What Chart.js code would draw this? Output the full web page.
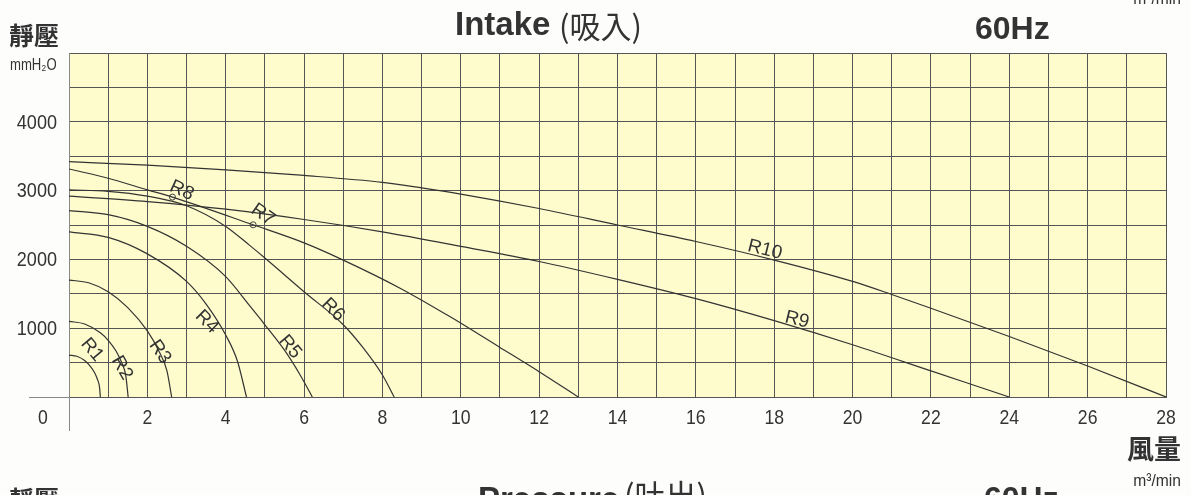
<!DOCTYPE html>
<html>
<head>
<meta charset="utf-8">
<script src="https://cdn.jsdelivr.net/npm/chart.js@4.4.1/dist/chart.umd.min.js"></script>
<style>
  html, body { margin: 0; padding: 0; background: #fdfdfc; }
  canvas { display: block; }
</style>
</head>
<body>
<canvas id="chart" width="1191" height="495"></canvas>
<script>
// 風量 (m3/min) -> 靜壓 (mmH2O)
const curveR1 = [[0, 610], [0.2, 592], [0.4, 530], [0.55, 440], [0.65, 355], [0.73, 250], [0.78, 140], [0.8, 0]];
const curveR2 = [[0, 1100], [0.4, 1061], [0.8, 933], [1.0, 824], [1.2, 668], [1.35, 493], [1.45, 307], [1.51, 0]];
const curveR3 = [[0, 1700], [0.5, 1660], [1, 1530], [1.5, 1300], [2, 960], [2.3, 660], [2.5, 380], [2.62, 0]];
const curveR4 = [[0, 2400], [1, 2320], [2, 2080], [3, 1680], [3.5, 1350], [4, 900], [4.3, 520], [4.53, 0]];
const curveR5 = [[0, 2710], [1, 2650], [2, 2480], [3, 2190], [4, 1750], [4.62, 1320], [5, 1050], [5.5, 680], [5.9, 320], [6.21, 0]];
const curveR6 = [[0, 3010], [1, 2990], [2, 2920], [3, 2780], [4, 2480], [4.62, 2200], [5, 2020], [6, 1530], [7, 1050], [7.5, 720], [8, 320], [8.3, 0]];
const curveR7 = [[0, 3314], [1, 3180], [2, 3010], [2.64, 2906], [4.7, 2503], [6, 2240], [7, 1990], [8.45, 1582], [9.72, 1169], [11, 720], [12, 368], [13, 0]];
const curveR9 = [[0, 2920], [2, 2840], [4, 2730], [6, 2580], [8, 2400], [10, 2190], [12, 1970], [14, 1710], [16, 1430], [18, 1110], [20, 760], [22, 380], [24, 0]];
const curveR10 = [[0, 3420], [2, 3370], [4, 3300], [6, 3220], [8, 3120], [9, 3040], [10, 2950], [12, 2740], [14, 2500], [16, 2260], [18, 1990], [20, 1680], [21, 1490], [22, 1290], [24, 880], [26, 450], [28, 0]];

const curveNames = ['R1', 'R2', 'R3', 'R4', 'R5', 'R6', 'R7', 'R9', 'R10'];
const curves = [curveR1, curveR2, curveR3, curveR4, curveR5, curveR6, curveR7, curveR9, curveR10];

// small circles that point a tag at its curve
const markerFlow = [2.64, 4.7];
const markerPress = [2906, 2503];

const xTicks = [2, 4, 6, 8, 10, 12, 14, 16, 18, 20, 22, 24, 26, 28];
const yTicks = [1000, 2000, 3000, 4000];

// tag text, anchor (flow, pressure) and tilt in degrees
const tags = [
    ['R1', 0.59, 684, 50],
    ['R2', 1.35, 422, 60],
    ['R3', 2.32, 655, 55],
    ['R4', 3.52, 1092, 45],
    ['R5', 5.64, 728, 50],
    ['R6', 6.74, 1266, 45],
    ['R7', 4.95, 2649, 35],
    ['R8', 2.88, 2999, 25],
    ['R9', 18.58, 1121, 14],
    ['R10', 17.76, 2140, 14]
];

const SANS = '"Liberation Sans", Arial, sans-serif';
const CJK = '"Noto Sans CJK TC", "Noto Sans CJK SC", sans-serif';
const INK = '#333';

// condensed look: squeeze a normal face horizontally
function narrowText(ctx, txt, px, py, font, sx, align) {
    ctx.save();
    ctx.translate(px, py);
    ctx.scale(sx, 1);
    ctx.font = font;
    ctx.textAlign = align;
    ctx.fillText(txt, 0, 0);
    ctx.restore();
}

const decor = {
    id: 'decor',
    beforeDraw(chart) {
        const { ctx, chartArea: a } = chart;
        ctx.save();
        ctx.fillStyle = '#fefccc';
        ctx.fillRect(a.left, a.top, a.right - a.left, a.bottom - a.top);
        ctx.restore();
    },
    afterDraw(chart) {
        const { ctx, chartArea: a, scales: { x, y } } = chart;
        ctx.save();

        // axis stubs outside the grid
        ctx.strokeStyle = '#888';
        ctx.lineWidth = 1;
        ctx.beginPath();
        ctx.moveTo(29, Math.round(a.bottom) + 0.5);
        ctx.lineTo(a.left, Math.round(a.bottom) + 0.5);
        ctx.moveTo(Math.round(a.left) + 0.5, a.bottom);
        ctx.lineTo(Math.round(a.left) + 0.5, 431);
        ctx.stroke();

        ctx.fillStyle = INK;
        ctx.textBaseline = 'middle';

        // tick labels from the scales
        x.ticks.forEach(t => {
            if (xTicks.includes(t.value)) {
                narrowText(ctx, String(t.value), x.getPixelForValue(t.value), 418, '21px ' + SANS, 0.84, 'center');
            }
        });
        y.ticks.forEach(t => {
            if (yTicks.includes(t.value)) {
                narrowText(ctx, String(t.value), 57, y.getPixelForValue(t.value) + 1, '21px ' + SANS, 0.86, 'right');
            }
        });
        narrowText(ctx, '0', 43, 418, '21px ' + SANS, 0.84, 'center');

        // curve tags
        ctx.font = '19px ' + SANS;
        ctx.textAlign = 'center';
        tags.forEach(([txt, q, p, deg]) => {
            ctx.save();
            ctx.translate(x.getPixelForValue(q), y.getPixelForValue(p));
            ctx.rotate(deg * Math.PI / 180);
            ctx.fillText(txt, 0, 0);
            ctx.restore();
        });

        // titles
        ctx.textAlign = 'left';
        ctx.font = 'bold 33px ' + SANS;
        ctx.fillText('Intake', 455, 26);
        ctx.font = '31px ' + CJK;
        ctx.fillText('(吸入)', 559, 26);
        ctx.font = 'bold 32px ' + SANS;
        ctx.fillText('60Hz', 975, 30);

        // y axis name
        ctx.font = '600 25px ' + CJK;
        ctx.fillText('靜壓', 9, 35);
        narrowText(ctx, 'mmH₂O', 10, 66, '16px ' + SANS, 0.82, 'left');

        // x axis name
        ctx.font = '600 27px ' + CJK;
        ctx.textAlign = 'right';
        ctx.fillText('風量', 1181, 449);
        narrowText(ctx, 'm³/min', 1181, 481, '17px ' + SANS, 0.92, 'right');
        // unit left over from the chart above
        narrowText(ctx, 'm³/min', 1181, -1, '17px ' + SANS, 0.92, 'right');

        // next chart heading, cut by the page edge
        ctx.textAlign = 'left';
        ctx.textBaseline = 'top';
        ctx.font = 'bold 33px ' + SANS;
        ctx.fillText('Pressure', 478, 484);
        ctx.font = '31px ' + CJK;
        ctx.fillText('(吐出)', 624, 480);
        ctx.font = 'bold 32px ' + SANS;
        ctx.fillText('60Hz', 984, 484);
        ctx.font = '600 25px ' + CJK;
        ctx.fillText('靜壓', 9, 487);

        ctx.restore();
    }
};

const datasets = curves.map((pts, i) => ({
    label: curveNames[i],
    data: pts.map(([q, p]) => ({ x: q, y: p })),
    borderColor: '#333',
    borderWidth: 1.2,
    pointRadius: 0,
    fill: false,
    cubicInterpolationMode: 'monotone'
}));

datasets.push({
    label: 'markers',
    data: markerFlow.map((q, i) => ({ x: q, y: markerPress[i] })),
    showLine: false,
    pointRadius: 3,
    pointBorderWidth: 1,
    pointBorderColor: '#444',
    pointBackgroundColor: 'rgba(0,0,0,0)'
});

new Chart(document.getElementById('chart').getContext('2d'), {
    type: 'line',
    data: { datasets: datasets },
    options: {
        responsive: false,
        animation: false,
        layout: { padding: { left: 0, right: 25, top: 53, bottom: 58 } },
        plugins: { legend: { display: false }, tooltip: { enabled: false } },
        scales: {
            x: {
                type: 'linear',
                min: 0,
                max: 28,
                afterFit: (scale) => { scale.height = 40; },
                border: { color: '#555' },
                grid: { color: '#555', lineWidth: 1, drawTicks: false },
                ticks: { stepSize: 1, autoSkip: false, display: false }
            },
            y: {
                min: 0,
                max: 5000,
                afterFit: (scale) => { scale.width = 69; },
                border: { color: '#888' },
                grid: { color: '#555', lineWidth: 1, drawTicks: false },
                ticks: { stepSize: 500, autoSkip: false, display: false }
            }
        }
    },
    plugins: [decor]
});
</script>
</body>
</html>
